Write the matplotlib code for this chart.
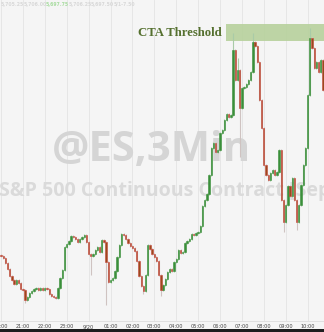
import matplotlib
matplotlib.use("Agg")
import matplotlib.pyplot as plt
import numpy as np
from matplotlib.patches import Rectangle

# ---- data (6-minute closes, ES futures, from 20:00 on 9/19) ----
closes = [
    5656.25, 5655.75, 5654.5, 5653.0, 5651.25, 5650.25, 5649.25, 5650.25, 5649.5, 5648.0,
    5647.75, 5645.25, 5646.0, 5647.0, 5647.5, 5648.0, 5648.25, 5647.75, 5648.25, 5647.75,
    5648.25, 5648.0, 5646.75, 5646.25, 5646.0, 5645.75, 5648.25, 5650.75, 5652.75, 5658.5,
    5659.25, 5660.0, 5661.25, 5661.0, 5660.5, 5659.75, 5660.5, 5661.0, 5661.5, 5659.75,
    5656.75, 5656.25, 5656.75, 5657.75, 5658.5, 5657.25, 5660.25, 5659.75, 5654.75, 5649.75,
    5650.25, 5650.75, 5652.5, 5656.0, 5659.0, 5661.75, 5661.5, 5660.5, 5659.5, 5658.75,
    5658.25, 5657.5, 5655.0, 5651.25, 5648.75, 5647.5, 5651.5, 5659.0, 5658.0, 5656.75,
    5656.0, 5655.0, 5651.5, 5647.75, 5649.0, 5650.5, 5652.25, 5653.0, 5652.5, 5654.75,
    5655.5, 5657.75, 5657.0, 5657.25, 5659.5, 5660.0, 5660.5, 5661.75, 5661.5, 5662.0,
    5662.25, 5663.75, 5668.75, 5670.25, 5671.75, 5676.5, 5683.25, 5684.5, 5682.25, 5682.75,
    5687.0, 5687.75, 5690.25, 5691.75, 5691.0, 5691.5, 5707.75, 5700.25, 5702.75, 5693.25,
    5698.25, 5698.5, 5699.25, 5700.25, 5702.25, 5709.75, 5708.75, 5704.75, 5695.25, 5688.25,
    5679.0, 5676.5, 5675.25, 5677.0, 5677.75, 5676.5, 5677.25, 5682.75, 5670.25, 5664.75,
    5669.0, 5673.75, 5671.25, 5675.75, 5670.25, 5664.75, 5669.0, 5674.0, 5679.0, 5683.25,
    5696.5, 5710.75, 5708.25, 5703.25, 5704.75, 5702.25, 5705.25, 5697.75,
]
first_open = 5656.5
high_marks = {106: 5712.0, 108: 5705.75, 115: 5712.0, 141: 5713.25}
low_marks = {11: 5644.5, 41: 5651.5, 48: 5644.0, 65: 5646.75, 73: 5646.25,
             109: 5681.0, 129: 5662.25, 135: 5662.75}
bar_hours = 0.1
tick_labels = ["20:00", "21:00", "22:00", "23:00", "9/20", "01:00", "02:00", "03:00",
               "04:00", "05:00", "06:00", "07:00", "08:00", "09:00", "10:00"]
cta_low, cta_high = 5710.0, 5714.25
cta_start_hour = 10.27
watermark = "@ES,3Min"
subtitle = "S&P 500 Continuous Contract [Sep 24]"
quote_values = ["5,705.25", "5,706.00", "5,697.75", "5,706.25", "5,697.50", "5/1-7.50"]

# ---- derived OHLC ----
closes_a = np.array(closes)
opens_a = np.concatenate([[first_open], closes_a[:-1]])
hours = np.arange(len(closes_a)) * bar_hours
highs = np.maximum(opens_a, closes_a) + 0.25
lows = np.minimum(opens_a, closes_a) - 0.25
for k, v in high_marks.items():
    highs[k] = v
for k, v in low_marks.items():
    lows[k] = v

W, H = 324, 332
bg = "#f5f5f5"
fig = plt.figure(figsize=(W / 100, H / 100), dpi=100, facecolor=bg)
ax_bottom = 11
ax = fig.add_axes([0, ax_bottom / H, 1, (H - ax_bottom) / H])
ax.set_facecolor(bg)

px_per_hour = 21.9
x0 = 1.0
ax.set_xlim((0 - x0) / px_per_hour, (W - x0) / px_per_hour)
ax.set_ylim(5640, 5720.25)

# grid
for h in range(len(tick_labels)):
    ax.axvline(h, color="#e4e4e4", lw=0.6, zorder=0)

def pxy(px, py):
    return px / W, (H - ax_bottom - py) / (H - ax_bottom)

ax.text(*pxy(151, 150), watermark, transform=ax.transAxes, ha="center", va="center",
        fontsize=30, fontweight="bold", family="Open Sans", color="#d5d5d5", zorder=0.5)
ax.text(*pxy(-1, 191), subtitle, transform=ax.transAxes, ha="left", va="center",
        fontsize=14.1, fontweight="bold", family="Open Sans", color="#dadada", zorder=0.5)

# CTA threshold band
ax.add_patch(Rectangle((cta_start_hour, cta_low), 20, cta_high - cta_low,
                       facecolor="#b7d19c", edgecolor="none", alpha=0.9, zorder=1))
ax.text(cta_start_hour - 0.18, (cta_low + cta_high) / 2, "CTA Threshold", ha="right",
        va="center", fontsize=9.2, fontweight="bold", family="Liberation Serif",
        color="#55702f", zorder=2)

# candles
up = closes_a >= opens_a
up_col = "#3a8f3a"
dn_edge = "#c8443a"
dn_body = "#9a4a1c"
wick_col = np.where(up, "#a9cba7", "#cfc3c1")
ax.vlines(hours, lows, highs, colors=wick_col, lw=0.8, zorder=2)
body_h = np.abs(closes_a - opens_a)
body_h = np.maximum(body_h, 0.3)
body_b = np.minimum(opens_a, closes_a)
ax.bar(hours[up], body_h[up], bottom=body_b[up], width=0.06, color=up_col,
       edgecolor=up_col, lw=0.4, zorder=3)
ax.bar(hours[~up], body_h[~up], bottom=body_b[~up], width=0.06, color=dn_body,
       edgecolor=dn_edge, lw=0.4, zorder=3)

# axes styling
for s in ["top", "left", "right"]:
    ax.spines[s].set_visible(False)
ax.spines["bottom"].set_color("#dddddd")
ax.spines["bottom"].set_linewidth(0.6)
ax.set_yticks([])
ax.set_xticks(range(len(tick_labels)))
ax.set_xticklabels(tick_labels, fontsize=3.6, color="#444444")
ax.tick_params(axis="x", length=0, pad=2.2)

# faint quote line at top
xq = 1
for i, q in enumerate(quote_values):
    fig.text(xq / W, 1 - 4.5 / H, q, fontsize=3.3, color="#a8dca0" if i == 2 else "#d8d8d8",
             va="center", ha="left", fontweight="bold")
    xq += 22.5

# black bottom bar
fig.patches.append(Rectangle((0, 0), 1, 3.5 / H, transform=fig.transFigure,
                             facecolor="#1e1e1e", edgecolor="none"))

fig.savefig("out.png", dpi=100, facecolor=bg)
